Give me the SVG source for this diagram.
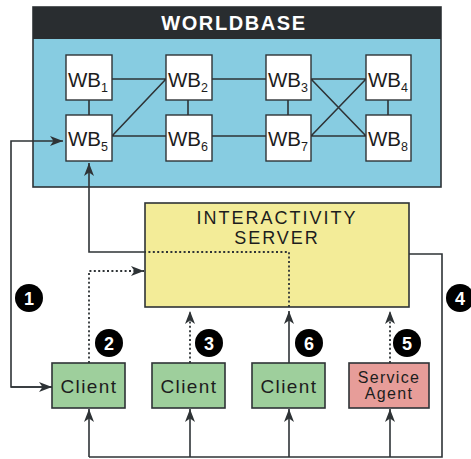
<svg xmlns="http://www.w3.org/2000/svg" width="471" height="459" viewBox="0 0 471 459">
<style>
.ln{fill:none;stroke:#2e3336;stroke-width:1.6}
.dot{fill:none;stroke:#2e3336;stroke-width:1.8;stroke-dasharray:2 2.4}
.wb{fill:#ffffff;stroke:#2e3336;stroke-width:1.4}
.wbt{font-family:"Liberation Sans",Arial,sans-serif;font-size:20.5px;fill:#1d1d1d}
.sub{font-size:12.5px}
.cl{fill:#9ecf9c;stroke:#2e3336;stroke-width:1.6}
.sa{fill:#e79d99;stroke:#2e3336;stroke-width:1.6}
.ct{font-family:"Liberation Sans",Arial,sans-serif;font-size:19px;letter-spacing:1.4px;fill:#1d1d1d;text-anchor:middle}
.badge{fill:#000000}
.bt{font-family:"Liberation Sans",Arial,sans-serif;font-size:18px;font-weight:bold;fill:#ffffff;text-anchor:middle}
</style>
<defs>
<marker id="ah" viewBox="0 0 13 10" refX="13" refY="5" markerWidth="13" markerHeight="10" markerUnits="userSpaceOnUse" orient="auto">
<path d="M0,0 L13,5 L0,10 L3.5,5 z" fill="#2e3336"/>
</marker>
</defs>
<rect width="471" height="459" fill="#ffffff"/>

<g id="worldbase">
<rect x="33" y="7" width="408" height="180" fill="#87cce1" stroke="#2e3336" stroke-width="1.6"/>
<rect x="33" y="7" width="408" height="32" fill="#292d30"/>
<text x="234" y="30" font-family="Liberation Sans,Arial,sans-serif" font-size="20" font-weight="bold" letter-spacing="1.6" fill="#ffffff" text-anchor="middle">WORLDBASE</text>
</g>

<g id="wb-links">
<path class="ln" d="M112,79 H166 M212,79 H266 M311,79 H366 M112,136 H166 M212,136 H266 M311,136 H366 M89,100 V115 M188,100 V115 M288,100 V115 M388,100 V115 M112,136 L166,79 M311,79 L366,136 M311,136 L366,79"/>
</g>

<g id="wb1"><rect class="wb" x="66" y="55" width="46" height="45"/><text class="wbt" x="68" y="87">WB<tspan class="sub" dy="5">1</tspan></text></g>
<g id="wb2"><rect class="wb" x="166" y="55" width="46" height="45"/><text class="wbt" x="168" y="87">WB<tspan class="sub" dy="5">2</tspan></text></g>
<g id="wb3"><rect class="wb" x="266" y="55" width="45" height="45"/><text class="wbt" x="268" y="87">WB<tspan class="sub" dy="5">3</tspan></text></g>
<g id="wb4"><rect class="wb" x="366" y="55" width="45" height="45"/><text class="wbt" x="368" y="87">WB<tspan class="sub" dy="5">4</tspan></text></g>
<g id="wb5"><rect class="wb" x="66" y="115" width="46" height="46"/><text class="wbt" x="68" y="146">WB<tspan class="sub" dy="5">5</tspan></text></g>
<g id="wb6"><rect class="wb" x="166" y="115" width="46" height="46"/><text class="wbt" x="168" y="146">WB<tspan class="sub" dy="5">6</tspan></text></g>
<g id="wb7"><rect class="wb" x="266" y="115" width="45" height="46"/><text class="wbt" x="268" y="146">WB<tspan class="sub" dy="5">7</tspan></text></g>
<g id="wb8"><rect class="wb" x="366" y="115" width="45" height="46"/><text class="wbt" x="368" y="146">WB<tspan class="sub" dy="5">8</tspan></text></g>

<g id="server">
<rect x="145" y="203" width="264" height="104" fill="#f3ec98" stroke="#2e3336" stroke-width="1.6"/>
<text font-family="Liberation Sans,Arial,sans-serif" font-size="18" letter-spacing="2" fill="#1d1d1d" text-anchor="middle"><tspan x="277" y="224">INTERACTIVITY</tspan><tspan x="277" y="244">SERVER</tspan></text>
</g>

<g id="client1"><rect class="cl" x="52" y="363" width="73" height="45"/><text class="ct" x="89" y="393">Client</text></g>
<g id="client2"><rect class="cl" x="152" y="363" width="73" height="45"/><text class="ct" x="189" y="393">Client</text></g>
<g id="client3"><rect class="cl" x="252" y="363" width="73" height="45"/><text class="ct" x="289" y="393">Client</text></g>
<g id="service-agent"><rect class="sa" x="349" y="363" width="80" height="45"/><text font-family="Liberation Sans,Arial,sans-serif" font-size="16" letter-spacing="1.3" fill="#1d1d1d" text-anchor="middle"><tspan x="389" y="383">Service</tspan><tspan x="389" y="399">Agent</tspan></text></g>

<g id="connectors">
<path class="ln" d="M52,387 H11 V141 H63" marker-end="url(#ah)"/>
<path class="ln" d="M11,387 H52" marker-end="url(#ah)"/>
<path class="dot" d="M89,363 V271 H144" marker-end="url(#ah)"/>
<path class="dot" d="M190,363 V311" marker-end="url(#ah)"/>
<path class="dot" d="M390,363 V311" marker-end="url(#ah)"/>
<path class="ln" d="M289,363 V311" marker-end="url(#ah)"/>
<path class="dot" d="M289,307 V252 H145"/>
<path class="ln" d="M145,252 H89 V163" marker-end="url(#ah)"/>
<path class="ln" d="M409,254 H442 V457 H89"/>
<path class="ln" d="M89,457 V409" marker-end="url(#ah)"/>
<path class="ln" d="M190,457 V409" marker-end="url(#ah)"/>
<path class="ln" d="M289,457 V409" marker-end="url(#ah)"/>
<path class="ln" d="M390,457 V409" marker-end="url(#ah)"/>
</g>

<g id="badges">
<circle class="badge" cx="29" cy="298" r="14"/><text class="bt" x="29" y="304.5">1</text>
<circle class="badge" cx="109" cy="343" r="14"/><text class="bt" x="109" y="349.5">2</text>
<circle class="badge" cx="209" cy="343" r="14"/><text class="bt" x="209" y="349.5">3</text>
<circle class="badge" cx="460" cy="298" r="14"/><text class="bt" x="460" y="304.5">4</text>
<circle class="badge" cx="407" cy="343" r="14"/><text class="bt" x="407" y="349.5">5</text>
<circle class="badge" cx="309" cy="343" r="14"/><text class="bt" x="309" y="349.5">6</text>
</g>
</svg>
